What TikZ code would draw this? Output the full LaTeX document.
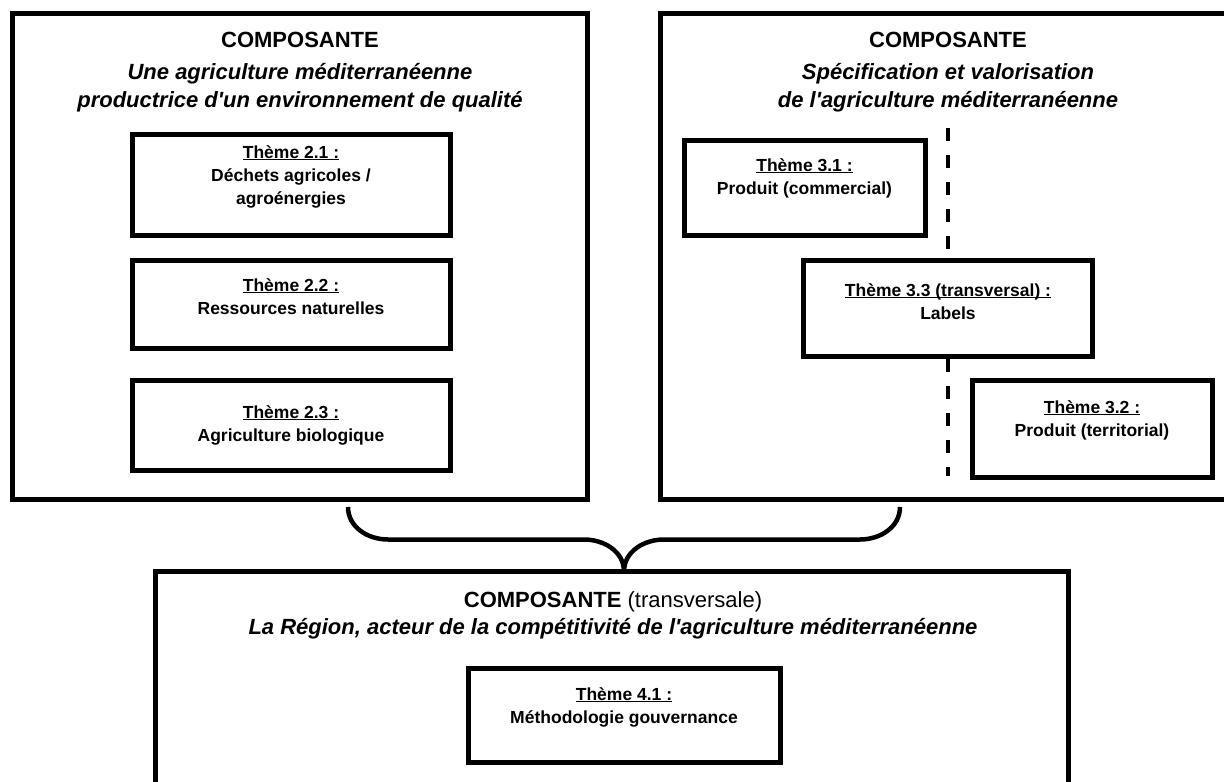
\documentclass[tikz,border=0pt]{standalone}
\usepackage{fontspec}
\setmainfont{Liberation Sans}
\newcommand\ulbox[1]{\setbox0\hbox{#1}\rlap{\rule[-2.4pt]{\wd0}{1.3pt}}\box0}
\newcommand\themetext[2]{\begin{tabular}[t]{@{}c@{}}\ulbox{#1}\\#2\end{tabular}}
\newcommand\apo{\textquotesingle}
\tikzset{
  frame/.style={draw=black, line width=5pt, rectangle, inner sep=0pt},
  ttl/.style={anchor=base, inner sep=0pt, font=\fontsize{22}{28}\selectfont},
  thm/.style={anchor=base, inner sep=0pt, font=\fontsize{17.5}{23}\selectfont\bfseries},
  brace/.style={draw=black, line width=4.5pt},
  sep/.style={draw=black, line width=4.5pt, dash pattern=on 13pt off 14pt}
}
\begin{document}
\begin{tikzpicture}[x=1pt,y=-1pt]
\useasboundingbox (0,0) rectangle (1224,782);
\fill[white] (0,0) rectangle (1224,782);
\clip (0,0) rectangle (1224,782);
% big frames
\node[frame, minimum width=575pt, minimum height=486pt] (L) at (300,256.5) {};
\node[frame, minimum width=575.5pt, minimum height=486pt] (R) at (948.25,256.5) {};
\node[frame, minimum width=912.5pt, minimum height=228.5pt] (B) at (611.75,685.75) {};
% titles
\node[ttl] (Lt) at (300,47) {\begin{tabular}[t]{@{}c@{}}\textbf{COMPOSANTE}\\[4pt]\textbf{\itshape Une agriculture méditerranéenne}\\\textbf{\itshape productrice d\apo un environnement de qualité}\end{tabular}};
\node[ttl] (Rt) at (948,47) {\begin{tabular}[t]{@{}c@{}}\textbf{COMPOSANTE}\\[4pt]\textbf{\itshape Spécification et valorisation}\\\textbf{\itshape de l\apo agriculture méditerranéenne}\end{tabular}};
\node[ttl] (Bt) at (613,607) {\begin{tabular}[t]{@{}c@{}}\textbf{COMPOSANTE} (transversale)\\[-1pt]\textbf{\itshape La Région, acteur de la compétitivité de l\apo agriculture méditerranéenne}\end{tabular}};
% theme boxes
\node[frame, minimum width=318pt, minimum height=101pt] (t21) at (291,184.5) {};
\node[frame, minimum width=318pt, minimum height=88pt] (t22) at (291,304) {};
\node[frame, minimum width=318pt, minimum height=90pt] (t23) at (291,425) {};
\node[frame, minimum width=241pt, minimum height=95pt] (t31) at (804.5,187.5) {};
\node[frame, minimum width=289pt, minimum height=96pt] (t33) at (948,308) {};
\node[frame, minimum width=240pt, minimum height=97pt] (t32) at (1092,428.5) {};
\node[frame, minimum width=312pt, minimum height=94pt] (t41) at (624,715) {};
% theme texts
\node[thm] (x21) at (291,158) {\begin{tabular}[t]{@{}c@{}}\ulbox{Thème 2.1 :}\\Déchets agricoles /\\agroénergies\end{tabular}};
\node[thm] (x22) at (291,291) {\themetext{Thème 2.2 :}{Ressources naturelles}};
\node[thm] (x23) at (291,418) {\themetext{Thème 2.3 :}{Agriculture biologique}};
\node[thm] (x31) at (804.5,171) {\themetext{Thème 3.1 :}{Produit (commercial)}};
\node[thm] (x33) at (948,296) {\themetext{Thème 3.3 (transversal) :}{Labels}};
\node[thm] (x32) at (1092,413) {\themetext{Thème 3.2 :}{Produit (territorial)}};
\node[thm] (x41) at (624,700) {\themetext{Thème 4.1 :}{Méthodologie gouvernance}};
% dashed separator
\coordinate (d1) at (948,128);
\coordinate (d2) at (948,476);
\draw[sep] (d1) -- (t33.north);
\draw[sep] (t33.south) -- (d2);
% brace
\coordinate (bl) at (348,507);
\coordinate (br) at (900,507);
\coordinate (tip) at (624,571.5);
\coordinate (h1) at (388,539.5);
\coordinate (h2) at (584,539.5);
\coordinate (h3) at (664,539.5);
\coordinate (h4) at (860,539.5);
\draw[brace] (bl) to[out=-90,in=180] (h1) -- (h2) to[out=0,in=90] (tip);
\draw[brace] (tip) to[out=90,in=180] (h3) -- (h4) to[out=0,in=-90] (br);
\end{tikzpicture}
\end{document}
